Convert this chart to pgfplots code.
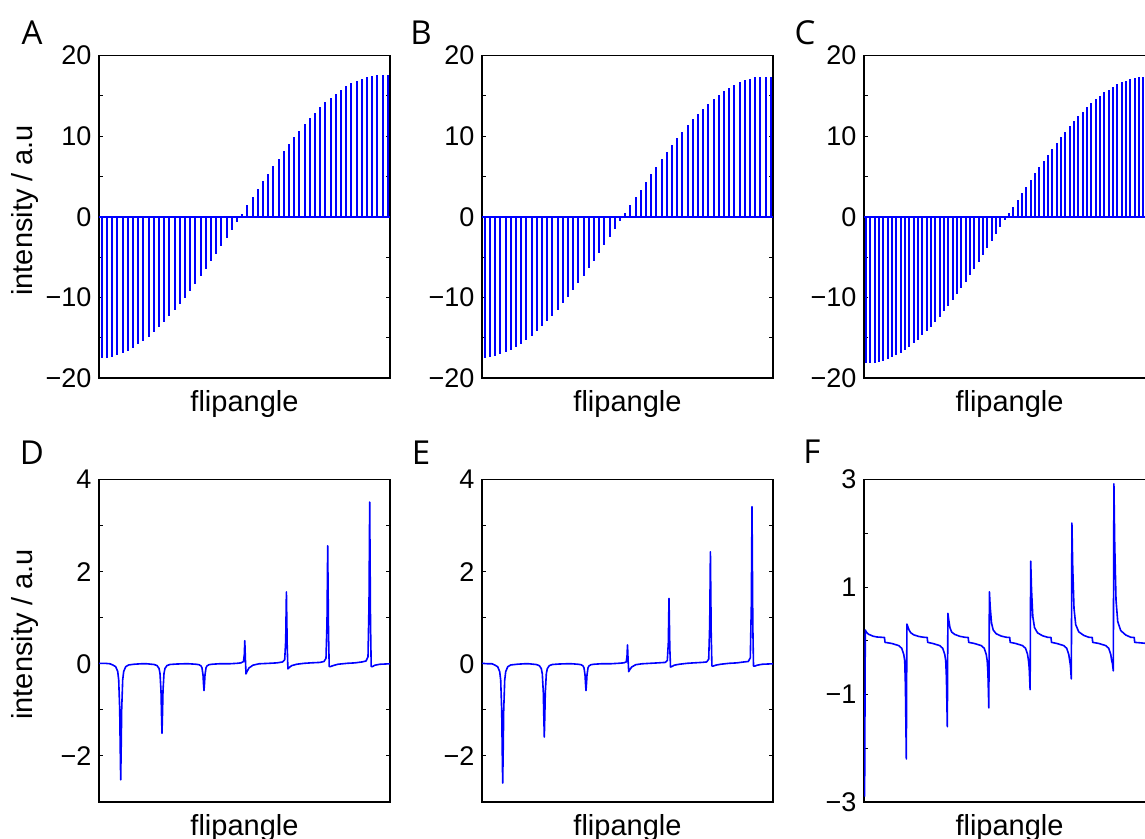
\documentclass[border=0pt]{standalone}
\usepackage{pgfplots}
\pgfplotsset{compat=1.18}
\usepackage{pgfplotstable}
\usepackage{fontspec}
\setmainfont{Liberation Sans}
\newfontfamily\letterfont{Open Sans}

\pgfplotstableread{
x y
2.7 -17.58
7.9 -17.50
13.1 -17.36
18.3 -17.17
23.5 -16.92
28.7 -16.61
33.9 -16.25
39.1 -15.84
44.3 -15.37
49.5 -14.86
54.7 -14.30
59.9 -13.69
65.1 -13.03
70.3 -12.34
75.5 -11.60
80.7 -10.82
85.9 -10.02
91.1 -9.18
96.3 -8.30
101.5 -7.40
106.7 -6.48
111.9 -5.53
117.1 -4.57
122.3 -3.59
127.5 -2.60
132.7 -1.61
137.9 -0.60
143.1 0.40
148.3 1.41
153.5 2.41
158.7 3.40
163.9 4.38
169.1 5.34
174.3 6.29
179.5 7.22
184.7 8.12
189.9 9.00
195.1 9.85
200.3 10.67
205.5 11.45
210.7 12.19
215.9 12.89
221.1 13.55
226.3 14.18
231.5 14.75
236.7 15.27
241.9 15.75
247.1 16.17
252.3 16.54
257.5 16.86
262.7 17.12
267.9 17.32
273.1 17.47
278.3 17.57
283.5 17.60
288.7 17.58
}\dataA

\pgfplotstableread{
x y
2.7 -17.50
7.9 -17.42
13.1 -17.28
18.3 -17.08
23.5 -16.83
28.7 -16.52
33.9 -16.16
39.1 -15.75
44.3 -15.28
49.5 -14.77
54.7 -14.21
59.9 -13.60
65.1 -12.94
70.3 -12.25
75.5 -11.51
80.7 -10.74
85.9 -9.93
91.1 -9.10
96.3 -8.22
101.5 -7.33
106.7 -6.41
111.9 -5.47
117.1 -4.51
122.3 -3.54
127.5 -2.56
132.7 -1.57
137.9 -0.58
143.1 0.41
148.3 1.40
153.5 2.39
158.7 3.37
163.9 4.34
169.1 5.29
174.3 6.23
179.5 7.15
184.7 8.04
189.9 8.91
195.1 9.75
200.3 10.56
205.5 11.34
210.7 12.07
215.9 12.76
221.1 13.41
226.3 14.03
231.5 14.60
236.7 15.11
241.9 15.58
247.1 16.00
252.3 16.36
257.5 16.68
262.7 16.94
267.9 17.13
273.1 17.27
278.3 17.35
283.5 17.38
288.7 17.36
}\dataB

\pgfplotstableread{
x y
2.0 -18.20
6.3 -18.18
10.7 -18.12
15.0 -18.01
19.3 -17.86
23.7 -17.67
28.0 -17.44
32.3 -17.17
36.6 -16.86
41.0 -16.51
45.3 -16.12
49.6 -15.69
54.0 -15.23
58.3 -14.72
62.6 -14.19
67.0 -13.62
71.3 -13.02
75.6 -12.40
79.9 -11.74
84.3 -11.05
88.6 -10.34
92.9 -9.60
97.3 -8.84
101.6 -8.07
105.9 -7.27
110.3 -6.45
114.6 -5.62
118.9 -4.78
123.2 -3.93
127.6 -3.06
131.9 -2.19
136.2 -1.32
140.6 -0.44
144.9 0.42
149.2 1.26
153.6 2.10
157.9 2.93
162.2 3.75
166.5 4.57
170.9 5.38
175.2 6.17
179.5 6.95
183.9 7.71
188.2 8.46
192.5 9.18
196.9 9.88
201.2 10.57
205.5 11.22
209.8 11.85
214.2 12.45
218.5 13.02
222.8 13.57
227.2 14.08
231.5 14.56
235.8 15.00
240.2 15.41
244.5 15.78
248.8 16.12
253.1 16.41
257.5 16.67
261.8 16.89
266.1 17.08
270.5 17.22
274.8 17.32
279.1 17.38
283.5 17.40
287.8 17.38
}\dataC

\pgfplotsset{
  panel/.style={
    scale only axis,
    width=145.5pt, height=161.25pt,
    xmin=0, xmax=291,
    xtick=\empty,
    axis line style={black, line width=0.6pt},
    tick style={black, line width=0.5pt},
    major tick length=2.2pt, minor tick length=2.2pt,
    tick align=inside,
    yticklabel style={font=\fontsize{13.5}{15}\selectfont, xshift=-0.3pt},
    xlabel={flipangle},
    every axis x label/.style={at={(rel axis cs:0.5,-0.08)}, anchor=center, font=\fontsize{14.5}{16}\selectfont},
    every axis y label/.style={at={(rel axis cs:-0.254,0.52)}, anchor=center, rotate=90, font=\fontsize{14.5}{16}\selectfont},
  },
  toprow/.style={panel, ymin=-20, ymax=20, ytick={-20,-10,0,10,20},
    yticklabels={−20,−10,0,10,20}, minor ytick={-15,-5,5,15}},
  botrow/.style={panel, ymin=-3, ymax=4, ytick={-2,0,2,4},
    yticklabels={−2,0,2,4}, minor ytick={-3,-1,1,3}},
  frow/.style={panel, ymin=-3, ymax=3, ytick={-3,-1,1,3},
    yticklabels={−3,−1,1,3}, minor ytick={-2,0,2}},
  spk/.style={ycomb, blue, line width=1pt, mark=none},
  ln/.style={blue, line width=0.8pt, mark=none, line join=round},
}

\begin{document}
\begin{tikzpicture}
\useasboundingbox (0,0) rectangle (572.5pt,419.5pt);
\clip (0,0) rectangle (572.5pt,419.5pt);

% A
\begin{axis}[toprow, at={(49.5pt,230.5pt)}, anchor=south west, ylabel={intensity / a.u}]
\addplot[ln] coordinates {(0,0) (291,0)};
\addplot[spk] table[x=x,y=y] {\dataA};
\end{axis}
% B
\begin{axis}[toprow, at={(241pt,230.5pt)}, anchor=south west]
\addplot[ln] coordinates {(0,0) (291,0)};
\addplot[spk] table[x=x,y=y] {\dataB};
\end{axis}
% C
\begin{axis}[toprow, at={(432pt,230.5pt)}, anchor=south west]
\addplot[ln] coordinates {(0,0) (291,0)};
\addplot[spk] table[x=x,y=y] {\dataC};
\end{axis}

% D
\begin{axis}[botrow, at={(49.5pt,18.5pt)}, anchor=south west, ylabel={intensity / a.u}]
\addplot[ln] coordinates {
(0,0.01)(6,0.01)(11,0.0)
(13.7,-0.025)(16.7,-0.063)(18.7,-0.166)(19.7,-0.348)(20.7,-0.983)(21.2,-1.81)(21.7,-2.52)(22.2,-1.81)(22.7,-0.983)(23.7,-0.348)(24.7,-0.166)(26.7,-0.063)(29.7,-0.025)
(35,-0.01)(42,0.0)(48,0.0)
(55,-0.015)(58,-0.038)(60,-0.10)(61,-0.208)(62,-0.589)(62.5,-1.09)(63,-1.51)(63.5,-1.09)(64,-0.589)(65,-0.208)(66,-0.10)(68,-0.038)(71,-0.015)
(78,-0.005)(85,0.0)(90,0.0)
(97,-0.01)(100,-0.02)(102,-0.045)(103,-0.09)(104,-0.24)(104.5,-0.43)(105,-0.58)(105.5,-0.43)(106,-0.24)(107,-0.09)(108,-0.045)(110,-0.02)(113,-0.01)
(120,0.0)(130,0.0)(138,0.01)
(142,0.02)(144.5,0.05)(145.3,0.2)(145.8,0.5)(146.4,0.1)(147,-0.22)(148,-0.17)(150,-0.09)(154,-0.03)(160,0.0)
(170,0.01)(178,0.02)
(183.7,0.04)(185.7,0.09)(186.7,0.5)(187.4,1.56)(188.2,0.4)(188.9,-0.11)(190.2,-0.08)(192.7,-0.04)(197.7,-0.01)
(205,0.01)(212,0.02)(221,0.03)
(225,0.05)(227,0.12)(228,0.9)(228.7,2.56)(229.5,0.7)(230.2,-0.06)(231.5,-0.06)(234,-0.04)(239,-0.01)
(248,0.01)(256,0.02)(263,0.04)
(267,0.06)(269,0.15)(270,1.3)(270.7,3.51)(271.5,0.9)(272.2,-0.06)(273.5,-0.06)(276,-0.03)(281,-0.01)(291,0.0)
};
\end{axis}
% E
\begin{axis}[botrow, at={(241pt,18.5pt)}, anchor=south west]
\addplot[ln] coordinates {
(0,0.01)(6,0.0)(10,0.0)
(12.7,-0.026)(15.7,-0.065)(17.7,-0.171)(18.7,-0.357)(19.7,-1.01)(20.2,-1.86)(20.7,-2.59)(21.2,-1.86)(21.7,-1.01)(22.7,-0.357)(23.7,-0.171)(25.7,-0.065)(28.7,-0.026)
(35,-0.01)(42,0.0)(47,0.0)
(54.3,-0.016)(57.3,-0.04)(59.3,-0.105)(60.3,-0.219)(61.3,-0.62)(61.8,-1.14)(62.3,-1.59)(62.8,-1.14)(63.3,-0.62)(64.3,-0.219)(65.3,-0.105)(67.3,-0.04)(70.3,-0.016)
(77,-0.005)(84,0.0)(90,0.0)
(96,-0.01)(99,-0.02)(101,-0.045)(102,-0.09)(103,-0.24)(103.5,-0.43)(104,-0.58)(104.5,-0.43)(105,-0.24)(106,-0.09)(107,-0.045)(109,-0.02)(112,-0.01)
(119,0.0)(128,0.0)(136,0.01)
(141.7,0.02)(144.2,0.04)(145,0.16)(145.5,0.41)(146.1,0.08)(146.7,-0.17)(147.7,-0.13)(149.7,-0.07)(153.7,-0.02)(160,0.0)
(168,0.01)(176,0.02)
(183.3,0.03)(185.3,0.07)(186.3,0.45)(187,1.42)(187.8,0.35)(188.5,-0.07)(189.8,-0.06)(192.3,-0.03)(197.3,-0.01)
(205,0.01)(212,0.02)(220,0.03)
(224.7,0.04)(226.7,0.1)(227.7,0.85)(228.4,2.43)(229.2,0.65)(229.9,-0.05)(231.2,-0.05)(233.7,-0.03)(238.7,-0.01)
(247,0.01)(255,0.02)(262,0.04)
(266.3,0.05)(268.3,0.13)(269.3,1.25)(270,3.41)(270.8,0.85)(271.5,-0.05)(272.8,-0.05)(275.3,-0.03)(280.3,-0.01)(291,0.0)
};
\end{axis}
% F
\begin{axis}[frow, at={(432pt,18.5pt)}, anchor=south west]
\addplot[ln] coordinates {
(0.6,-2.9)(1.3,0.2)(2,0.17)(3,0.15)(4.5,0.12)(6,0.11)(9,0.085)(13,0.07)(17,0.065)(20.5,0.06)(21,-0.03)
(27.7,-0.05)(34.7,-0.09)(37.7,-0.14)(39.7,-0.25)(40.7,-0.37)(41.4,-0.83)(42.3,-2.2)(42.9,0.31)(43.7,0.27)(45,0.20)(46.7,0.15)(49.7,0.11)(54.7,0.08)(59.7,0.065)(63.2,0.06)(63.7,-0.03)
(68.7,-0.05)(75.7,-0.09)(78.7,-0.14)(80.7,-0.25)(81.7,-0.37)(82.4,-0.68)(83.3,-1.6)(83.9,0.51)(84.7,0.39)(86,0.24)(87.7,0.16)(90.7,0.118)(95.7,0.083)(100.7,0.065)(104.2,0.06)(104.7,-0.03)
(110.2,-0.05)(117.2,-0.09)(120.2,-0.14)(122.2,-0.25)(123.2,-0.37)(123.9,-0.59)(124.8,-1.25)(125.4,0.91)(126.2,0.63)(127.5,0.33)(129.2,0.20)(132.2,0.13)(137.2,0.087)(142.2,0.065)(145.7,0.06)(146.2,-0.03)
(151.5,-0.05)(158.5,-0.09)(161.5,-0.14)(163.5,-0.25)(164.5,-0.37)(165.2,-0.51)(166.1,-0.91)(166.7,1.48)(167.5,0.96)(168.8,0.45)(170.5,0.245)(173.5,0.147)(178.5,0.093)(183.5,0.065)(187,0.06)(187.5,-0.03)
(192.7,-0.05)(199.7,-0.09)(202.7,-0.14)(204.7,-0.25)(205.7,-0.37)(206.4,-0.46)(207.3,-0.71)(207.9,2.19)(208.7,1.38)(210,0.60)(211.7,0.30)(214.7,0.167)(219.7,0.10)(224.7,0.065)(228.2,0.06)(228.7,-0.03)
(234.7,-0.05)(241.7,-0.09)(244.7,-0.14)(246.7,-0.25)(247.7,-0.37)(248.4,-0.42)(249.3,-0.56)(249.9,2.92)(250.7,1.81)(252,0.76)(253.7,0.36)(256.7,0.19)(261.7,0.107)(266.7,0.065)(270.2,0.06)(270.7,-0.03)(280,-0.045)(291,-0.06)
};
\end{axis}

\node[font=\letterfont\fontsize{16.5}{18}\selectfont] at (16pt,403pt) {A};
\node[font=\letterfont\fontsize{16.5}{18}\selectfont] at (210.5pt,403pt) {B};
\node[font=\letterfont\fontsize{16.5}{18}\selectfont] at (402.5pt,403pt) {C};
\node[font=\letterfont\fontsize{16.5}{18}\selectfont] at (16pt,193pt) {D};
\node[font=\letterfont\fontsize{16.5}{18}\selectfont] at (210.5pt,193pt) {E};
\node[font=\letterfont\fontsize{16.5}{18}\selectfont] at (406pt,193.5pt) {F};
\end{tikzpicture}
\end{document}
